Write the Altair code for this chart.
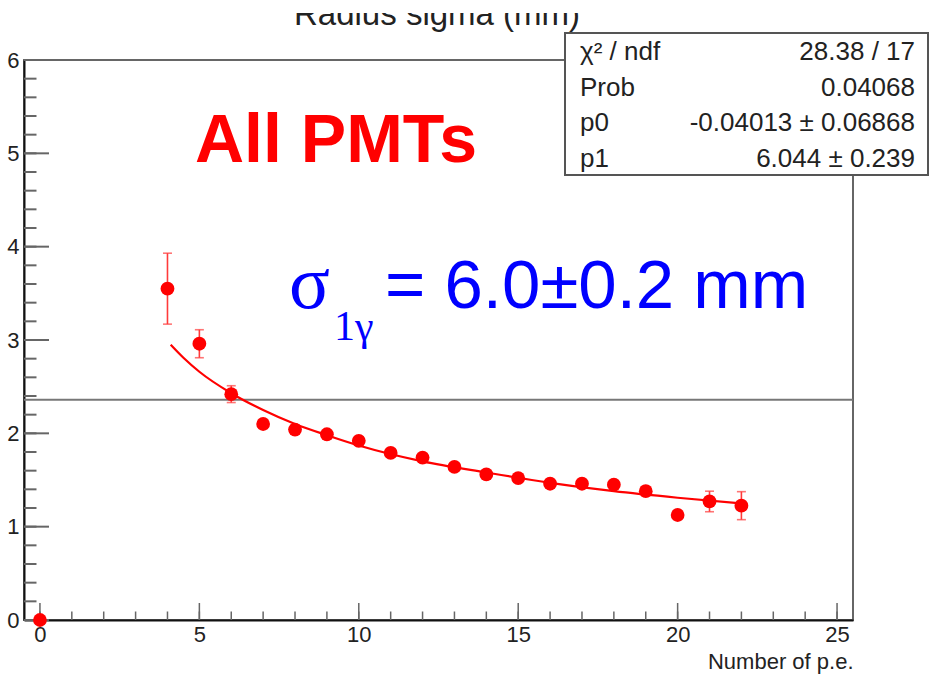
import altair as alt
import pandas as pd

# ---------------- data ----------------
npe = [0, 4, 5, 6, 7, 8, 9, 10, 11, 12, 13, 14, 15, 16, 17, 18, 19, 20, 21, 22]
sigma = [0.0, 3.55, 2.96, 2.42, 2.10, 2.04, 1.99, 1.92, 1.79, 1.74, 1.64, 1.56,
         1.52, 1.46, 1.46, 1.45, 1.38, 1.125, 1.27, 1.225]
sigma_err = [0.0, 0.38, 0.15, 0.09, 0.05, 0.05, 0.04, 0.04, 0.04, 0.04, 0.04, 0.04,
             0.04, 0.04, 0.04, 0.04, 0.05, 0.05, 0.11, 0.15]

fit_x = [4.1, 4.5, 5, 6, 7, 8, 9, 10, 12, 14, 16, 18, 20, 22]
fit_y = [2.95, 2.81, 2.66, 2.43, 2.25, 2.10, 1.98, 1.87, 1.70, 1.58, 1.47, 1.38, 1.31, 1.25]

hline_y = [2.36]

x_major = [0, 5, 10, 15, 20, 25]
x_minor = list(range(0, 26))
y_major = [0, 1, 2, 3, 4, 5, 6]
y_minor = [i / 5 for i in range(0, 31)]

title_text = "Radius sigma (mm)"
x_title = "Number of p.e."
stat_labels = ["χ² / ndf", "Prob", "p0", "p1"]
stat_values = ["28.38 / 17", "0.04068", "-0.04013 ± 0.06868", "6.044 ± 0.239"]
label_all = "All PMTs"
sigma_sym = "σ"
sigma_sub = "1γ"
sigma_rest = "= 6.0±0.2 mm"

# ---------------- layout ----------------
W, H = 829, 560
SANS = "Liberation Sans"
SERIF = "Liberation Serif"
xs = alt.Scale(domain=[-0.5, 25.5], nice=False, zero=False)
ys = alt.Scale(domain=[0, 6], nice=False, zero=False)

X_AX = alt.Axis(values=x_major, ticks=False, grid=False, domainColor="#111",
                domainWidth=2, labelFontSize=22, labelFont=SANS, labelColor="#222",
                labelPadding=4, title=x_title, titleAnchor="end", titleAlign="right",
                titleFontSize=22, titleFont=SANS, titleFontWeight="normal",
                titleColor="#222", titlePadding=6, labelFlush=False)
Y_AX = alt.Axis(values=y_major, ticks=False, grid=False, domainColor="#111",
                domainWidth=2, labelFontSize=22, labelFont=SANS, labelColor="#222",
                labelPadding=5, title="", labelFlush=False)


def X(f):
    return alt.X(f, scale=xs, axis=X_AX)


def Y(f):
    return alt.Y(f, scale=ys, axis=Y_AX)


pts = pd.DataFrame({"x": npe, "y": sigma, "lo": [s - e for s, e in zip(sigma, sigma_err)],
                    "hi": [s + e for s, e in zip(sigma, sigma_err)]})
err = pts[pts.x > 0]
fit = pd.DataFrame({"x": fit_x, "y": fit_y})

hline = alt.Chart(pd.DataFrame({"y": hline_y})).mark_rule(color="#777", strokeWidth=2).encode(
    y=Y("y:Q"), x=alt.value(0), x2=alt.value(W))

fitline = alt.Chart(fit).mark_line(color="#ff0000", strokeWidth=2.2, interpolate="monotone").encode(
    x=X("x:Q"), y=Y("y:Q"))

ecol = "#ff3a3a"
ebar = alt.Chart(err).mark_rule(color=ecol, strokeWidth=1.6).encode(
    x=X("x:Q"), y=Y("lo:Q"), y2="hi:Q")
cap_lo = alt.Chart(err).mark_tick(color=ecol, thickness=1.6, size=9, orient="horizontal").encode(
    x=X("x:Q"), y=Y("lo:Q"))
cap_hi = alt.Chart(err).mark_tick(color=ecol, thickness=1.6, size=9, orient="horizontal").encode(
    x=X("x:Q"), y=Y("hi:Q"))

points = alt.Chart(pts).mark_circle(color="#ff0000", size=190, opacity=1, clip=False).encode(
    x=X("x:Q"), y=Y("y:Q"))

tick_col = "#666"
xt_major = alt.Chart(pd.DataFrame({"v": x_major})).mark_rule(color=tick_col, strokeWidth=1.5).encode(
    x=X("v:Q"), y=alt.value(H), y2=alt.value(H - 17))
xt_minor = alt.Chart(pd.DataFrame({"v": x_minor})).mark_rule(color=tick_col, strokeWidth=1.5).encode(
    x=X("v:Q"), y=alt.value(H), y2=alt.value(H - 8.5))
yt_major = alt.Chart(pd.DataFrame({"v": y_major})).mark_rule(color=tick_col, strokeWidth=2).encode(
    y=Y("v:Q"), x=alt.value(0), x2=alt.value(25))
yt_minor = alt.Chart(pd.DataFrame({"v": y_minor})).mark_rule(color=tick_col, strokeWidth=2).encode(
    y=Y("v:Q"), x=alt.value(0), x2=alt.value(12.5))


def txt(text, x, y, size, color="#222", font=SANS, align="left", weight="normal"):
    return alt.Chart(pd.DataFrame({"t": [text]})).mark_text(
        align=align, baseline="alphabetic", fontSize=size, font=font, color=color, fontWeight=weight
    ).encode(x=alt.value(x), y=alt.value(y), text="t:N")


title = txt(title_text, 413, -35, 33, align="center")
cover = alt.Chart(pd.DataFrame({"a": [0]})).mark_rect(color="white").encode(
    x=alt.value(-24), x2=alt.value(W + 78), y=alt.value(-60), y2=alt.value(-47))

box = alt.Chart(pd.DataFrame({"a": [0]})).mark_rect(fill="white", stroke="#555", strokeWidth=2).encode(
    x=alt.value(541), x2=alt.value(904), y=alt.value(-27), y2=alt.value(115))
stats = []
for i, (lab, val) in enumerate(zip(stat_labels, stat_values)):
    stats.append(txt(lab, 556, 0 + i * 35.5, 26))
    stats.append(txt(val, 891, 0 + i * 35.5, 26, align="right"))

all_pmts = txt(label_all, 171, 102, 68, color="#ff0000", weight="bold")
sig1 = txt(sigma_sym, 265, 248, 76, color="#0000ff", font=SERIF)
sig2 = txt(sigma_sub, 310, 280, 42, color="#0000ff", font=SERIF)
sig3 = txt(sigma_rest, 361, 248, 69, color="#0000ff")

chart = alt.layer(
    hline, fitline, ebar, cap_lo, cap_hi, xt_minor, xt_major, yt_minor, yt_major, points,
    all_pmts, sig1, sig2, sig3, title, cover, box, *stats
).properties(
    width=W, height=H,
    autosize=alt.AutoSizeParams(type="none"),
    padding={"left": 24, "top": 60, "right": 78, "bottom": 54},
    background="white",
).configure_view(stroke="#666", strokeWidth=2)

chart.save("out.html", embed_options={"renderer": "svg", "actions": False})
